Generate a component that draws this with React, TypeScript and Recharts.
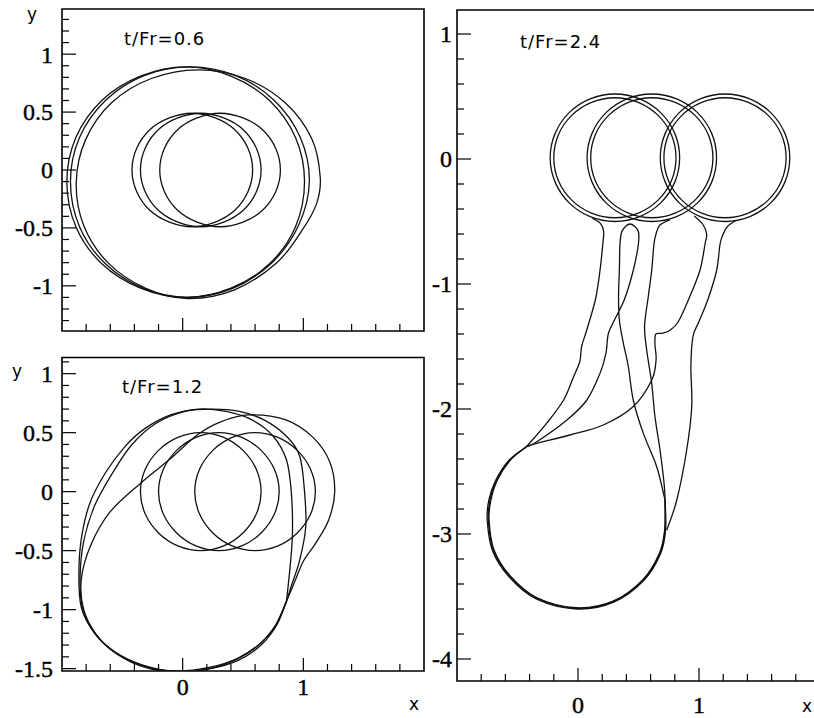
import React from 'react';
import { LineChart, Line, XAxis, YAxis, ReferenceArea } from 'recharts';

type P = [number, number];

// ---------- Panel t/Fr=0.6 (top left) ----------
const tlInnerA: P[] = [[0.58,0],[0.54,0.19],[0.43,0.35],[0.27,0.45],[0.08,0.49],[-0.11,0.45],[-0.27,0.35],[-0.38,0.19],[-0.42,0],[-0.38,-0.19],[-0.27,-0.35],[-0.11,-0.45],[0.08,-0.49],[0.27,-0.45],[0.43,-0.35],[0.54,-0.19]];
const tlInnerB: P[] = [[0.65,0],[0.61,0.19],[0.50,0.35],[0.34,0.45],[0.15,0.49],[-0.04,0.45],[-0.20,0.35],[-0.31,0.19],[-0.35,0],[-0.31,-0.19],[-0.20,-0.35],[-0.04,-0.45],[0.15,-0.49],[0.34,-0.45],[0.50,-0.35],[0.61,-0.19]];
const tlInnerC: P[] = [[0.81,0],[0.77,0.19],[0.66,0.35],[0.50,0.45],[0.31,0.49],[0.12,0.45],[-0.04,0.35],[-0.15,0.19],[-0.19,0],[-0.15,-0.19],[-0.04,-0.35],[0.12,-0.45],[0.31,-0.49],[0.50,-0.45],[0.66,-0.35],[0.77,-0.19]];
const tlOuterA: P[] = [[1.01,-0.10],[0.935,0.28],[0.72,0.60],[0.40,0.81],[0.03,0.89],[-0.35,0.81],[-0.67,0.60],[-0.885,0.28],[-0.96,-0.10],[-0.885,-0.49],[-0.67,-0.81],[-0.35,-1.02],[0.02,-1.10],[0.40,-1.02],[0.72,-0.81],[0.935,-0.49]];
const tlOuterB: P[] = [[1.05,-0.10],[0.975,0.28],[0.76,0.60],[0.44,0.815],[0.06,0.89],[-0.32,0.815],[-0.64,0.60],[-0.855,0.28],[-0.93,-0.10],[-0.855,-0.49],[-0.64,-0.81],[-0.32,-1.025],[0.04,-1.10],[0.41,-1.025],[0.74,-0.80],[0.96,-0.48]];
const tlOuterC: P[] = [[1.14,-0.06],[1.07,0.27],[0.85,0.58],[0.52,0.79],[0.13,0.865],[-0.26,0.79],[-0.59,0.58],[-0.805,0.26],[-0.882,-0.11],[-0.82,-0.48],[-0.62,-0.80],[-0.31,-1.02],[0.04,-1.11],[0.43,-1.035],[0.78,-0.80],[0.99,-0.52],[1.11,-0.29]];

// ---------- Panel t/Fr=1.2 (bottom left) ----------
const blInnerA: P[] = [[0.65,0],[0.61,0.19],[0.50,0.35],[0.34,0.46],[0.15,0.50],[-0.04,0.46],[-0.20,0.35],[-0.31,0.19],[-0.35,0],[-0.31,-0.19],[-0.20,-0.35],[-0.04,-0.46],[0.15,-0.50],[0.34,-0.46],[0.50,-0.35],[0.61,-0.19]];
const blInnerB: P[] = [[0.80,0],[0.76,0.19],[0.65,0.35],[0.49,0.46],[0.30,0.50],[0.11,0.46],[-0.05,0.35],[-0.16,0.19],[-0.20,0],[-0.16,-0.19],[-0.05,-0.35],[0.11,-0.46],[0.30,-0.50],[0.49,-0.46],[0.65,-0.35],[0.76,-0.19]];
const blInnerC: P[] = [[1.10,0],[1.06,0.19],[0.95,0.35],[0.79,0.46],[0.60,0.50],[0.41,0.46],[0.25,0.35],[0.14,0.19],[0.10,0],[0.14,-0.19],[0.25,-0.35],[0.41,-0.46],[0.60,-0.50],[0.79,-0.46],[0.95,-0.35],[1.06,-0.19]];
const blOuterA: P[] = [[0.86,-0.93],[0.89,-0.64],[0.91,-0.35],[0.90,0.0],[0.86,0.27],[0.75,0.47],[0.57,0.61],[0.36,0.68],[0.13,0.70],[-0.10,0.65],[-0.32,0.53],[-0.48,0.38],[-0.64,0.16],[-0.77,-0.10],[-0.84,-0.40],[-0.86,-0.70],[-0.84,-0.98],[-0.73,-1.20],[-0.56,-1.36],[-0.33,-1.47],[-0.05,-1.525],[0.22,-1.50],[0.45,-1.42],[0.64,-1.29],[0.77,-1.13],[0.86,-0.93]];
const blOuterB: P[] = [[0.86,-0.93],[0.90,-0.80],[0.97,-0.58],[1.02,-0.30],[1.01,0.0],[0.97,0.30],[0.86,0.47],[0.67,0.61],[0.47,0.68],[0.25,0.70],[0.02,0.68],[-0.22,0.58],[-0.42,0.40],[-0.58,0.16],[-0.73,-0.12],[-0.82,-0.42],[-0.85,-0.72],[-0.83,-0.99],[-0.72,-1.21],[-0.55,-1.37],[-0.32,-1.48],[-0.05,-1.52],[0.22,-1.49],[0.46,-1.41],[0.65,-1.28],[0.78,-1.12],[0.86,-0.93]];
const blOuterC: P[] = [[0.86,-0.93],[0.93,-0.76],[1.00,-0.59],[1.10,-0.44],[1.21,-0.24],[1.26,0.0],[1.22,0.25],[1.08,0.46],[0.85,0.61],[0.55,0.65],[0.31,0.59],[0.12,0.48],[-0.10,0.28],[-0.35,0.07],[-0.60,-0.17],[-0.76,-0.45],[-0.84,-0.74],[-0.82,-1.00],[-0.71,-1.22],[-0.54,-1.38],[-0.31,-1.49],[-0.04,-1.53],[0.23,-1.50],[0.46,-1.43],[0.65,-1.30],[0.78,-1.13],[0.86,-0.93]];

// ---------- Panel t/Fr=2.4 (right) ----------
const rRing1Out: P[] = [[0.84,0.01],[0.80,0.205],[0.683,0.371],[0.51,0.481],[0.305,0.52],[0.10,0.481],[-0.073,0.371],[-0.189,0.205],[-0.23,0.01],[-0.189,-0.185],[-0.073,-0.351],[0.10,-0.461],[0.305,-0.50],[0.51,-0.461],[0.683,-0.351],[0.80,-0.185]];
const rRing1In: P[] = [[0.81,0.01],[0.772,0.194],[0.662,0.349],[0.498,0.453],[0.305,0.49],[0.112,0.453],[-0.052,0.349],[-0.162,0.194],[-0.20,0.01],[-0.162,-0.174],[-0.052,-0.329],[0.112,-0.433],[0.305,-0.47],[0.498,-0.433],[0.662,-0.329],[0.772,-0.174]];
const rRing2Out: P[] = [[1.145,0.01],[1.105,0.205],[0.988,0.371],[0.815,0.481],[0.61,0.52],[0.405,0.481],[0.232,0.371],[0.116,0.205],[0.075,0.01],[0.116,-0.185],[0.232,-0.351],[0.405,-0.461],[0.61,-0.50],[0.815,-0.461],[0.988,-0.351],[1.105,-0.185]];
const rRing2In: P[] = [[1.115,0.01],[1.077,0.194],[0.967,0.349],[0.803,0.453],[0.61,0.49],[0.417,0.453],[0.253,0.349],[0.143,0.194],[0.105,0.01],[0.143,-0.174],[0.253,-0.329],[0.417,-0.433],[0.61,-0.47],[0.803,-0.433],[0.967,-0.329],[1.077,-0.174]];
const rRing3Out: P[] = [[1.75,0.01],[1.71,0.205],[1.593,0.371],[1.42,0.481],[1.215,0.52],[1.01,0.481],[0.837,0.371],[0.721,0.205],[0.68,0.01],[0.721,-0.185],[0.837,-0.351],[1.01,-0.461],[1.215,-0.50],[1.42,-0.461],[1.593,-0.351],[1.71,-0.185]];
const rRing3In: P[] = [[1.72,0.01],[1.682,0.194],[1.572,0.349],[1.408,0.453],[1.215,0.49],[1.022,0.453],[0.858,0.349],[0.748,0.194],[0.71,0.01],[0.748,-0.174],[0.858,-0.329],[1.022,-0.433],[1.215,-0.47],[1.408,-0.433],[1.572,-0.329],[1.682,-0.174]];
const rStemA: P[] = [[0.12,-0.475],[0.185,-0.515],[0.212,-0.58],[0.205,-0.68],[0.182,-0.89],[0.145,-1.12],[0.075,-1.36],[0.03,-1.50],[0.015,-1.62],[-0.04,-1.75],[-0.12,-1.93],[-0.26,-2.115],[-0.424,-2.30]];
const rStemBC: P[] = [[-0.424,-2.30],[-0.34,-2.262],[-0.094,-2.09],[0.072,-1.93],[0.182,-1.715],[0.231,-1.555],[0.25,-1.40],[0.30,-1.29],[0.385,-1.12],[0.457,-0.89],[0.499,-0.68],[0.497,-0.575],[0.43,-0.52],[0.365,-0.575],[0.347,-0.68],[0.342,-0.89],[0.335,-1.10],[0.342,-1.29],[0.375,-1.475],[0.416,-1.66],[0.457,-1.93],[0.54,-2.195],[0.65,-2.46],[0.72,-2.73]];
const rStemD: P[] = [[0.76,-0.485],[0.675,-0.53],[0.645,-0.60],[0.628,-0.68],[0.609,-0.89],[0.581,-1.10],[0.55,-1.34],[0.568,-1.53],[0.609,-1.795],[0.636,-2.06],[0.678,-2.33],[0.712,-2.60],[0.72,-2.73]];
const rStemE: P[] = [[0.96,-0.455],[1.03,-0.52],[1.063,-0.60],[1.05,-0.68],[1.008,-0.89],[0.92,-1.11],[0.83,-1.30],[0.76,-1.37],[0.70,-1.393],[0.645,-1.398],[0.636,-1.44],[0.637,-1.50],[0.645,-1.61],[0.609,-1.77],[0.457,-1.98],[0.209,-2.128],[-0.066,-2.208],[-0.341,-2.275],[-0.424,-2.30]];
const rStemF: P[] = [[1.30,-0.493],[1.235,-0.54],[1.20,-0.60],[1.174,-0.68],[1.146,-0.89],[1.075,-1.12],[1.0,-1.30],[0.95,-1.42],[0.933,-1.66],[0.94,-1.98],[0.898,-2.33],[0.816,-2.73],[0.733,-2.97]];
const rBlobA: P[] = [[-0.424,-2.30],[-0.562,-2.408],[-0.672,-2.568],[-0.727,-2.728],[-0.741,-2.888],[-0.70,-3.128],[-0.562,-3.341],[-0.341,-3.515],[-0.011,-3.595],[0.292,-3.541],[0.54,-3.368],[0.678,-3.155],[0.719,-2.968],[0.72,-2.73]];
const rBlobB: P[] = [[-0.424,-2.30],[-0.57,-2.41],[-0.68,-2.57],[-0.737,-2.73],[-0.75,-2.89],[-0.708,-3.13],[-0.568,-3.345],[-0.345,-3.52],[-0.011,-3.60],[0.295,-3.545],[0.545,-3.37],[0.683,-3.155],[0.724,-2.968],[0.72,-2.73]];
const rBlobC: P[] = [[-0.424,-2.30],[-0.555,-2.405],[-0.665,-2.565],[-0.72,-2.728],[-0.735,-2.888],[-0.695,-3.125],[-0.558,-3.337],[-0.338,-3.51],[-0.011,-3.59],[0.29,-3.537],[0.536,-3.365],[0.674,-3.152],[0.716,-2.968],[0.72,-2.73]];

// ---------- ticks ----------
const xMajor = [0, 1];
const xMinor = [-0.8, -0.6, -0.4, -0.2, 0.2, 0.4, 0.6, 0.8, 1.2, 1.4, 1.6, 1.8];
const tlYMajor = [-1, -0.5, 0, 0.5, 1];
const tlYMinor = [-1.3, -1.2, -1.1, -0.9, -0.8, -0.7, -0.6, -0.4, -0.3, -0.2, -0.1, 0.1, 0.2, 0.3, 0.4, 0.6, 0.7, 0.8, 0.9, 1.1, 1.2, 1.3];
const blYMajor = [-1.5, -1, -0.5, 0, 0.5, 1];
const blYMinor = [-1.4, -1.3, -1.2, -1.1, -0.9, -0.8, -0.7, -0.6, -0.4, -0.3, -0.2, -0.1, 0.1, 0.2, 0.3, 0.4, 0.6, 0.7, 0.8, 0.9, 1.1];
const rYMajor = [-4, -3, -2, -1, 0, 1];
const rYMinor = [-3.8, -3.6, -3.4, -3.2, -2.8, -2.6, -2.4, -2.2, -1.8, -1.6, -1.4, -1.2, -0.8, -0.6, -0.4, -0.2, 0.2, 0.4, 0.6, 0.8];

const toPts = (a: P[]) => a.map(([x, y]) => ({ x, y }));

function catmull(closed: boolean) {
  return (ctx: any) => {
    let pts: number[][] = [];
    return {
      areaStart() {},
      areaEnd() {},
      lineStart() { pts = []; },
      point(x: number, y: number) { pts.push([+x, +y]); },
      lineEnd() {
        const n = pts.length;
        if (!n) return;
        ctx.moveTo(pts[0][0], pts[0][1]);
        if (n < 3) {
          for (let i = 1; i < n; i++) ctx.lineTo(pts[i][0], pts[i][1]);
          return;
        }
        const get = (i: number) => (closed ? pts[(i + n) % n] : pts[Math.max(0, Math.min(n - 1, i))]);
        const segs = closed ? n : n - 1;
        for (let i = 0; i < segs; i++) {
          const p0 = get(i - 1), p1 = get(i), p2 = get(i + 1), p3 = get(i + 2);
          ctx.bezierCurveTo(
            p1[0] + (p2[0] - p0[0]) / 6, p1[1] + (p2[1] - p0[1]) / 6,
            p2[0] - (p3[0] - p1[0]) / 6, p2[1] - (p3[1] - p1[1]) / 6,
            p2[0], p2[1]
          );
        }
        if (closed) ctx.closePath();
      },
    };
  };
}
const closedCurve = catmull(true);
const openCurve = catmull(false);

const SERIF = '"Liberation Serif", "Times New Roman", Times, serif';
const SANS = '"DejaVu Sans", sans-serif';
const serifStyle = { fontFamily: SERIF, fontSize: 24 };

function makeYTick(majors: number[], gap: number) {
  return (props: any) => {
    const { x, y, payload } = props;
    const v = payload.value;
    const major = majors.includes(v);
    return (
      <g>
        <line x1={x} y1={y} x2={x + (major ? 14 : 7)} y2={y} stroke="#000" strokeWidth={1.2} />
        {major && (
          <text x={x - gap} y={y} dy="0.35em" textAnchor="end" style={serifStyle} fill="#000" stroke="#000" strokeWidth={0.4}>
            {String(v)}
          </text>
        )}
      </g>
    );
  };
}

function makeXTick(majors: number[], showLabels: boolean, labelDy: number) {
  return (props: any) => {
    const { x, y, payload } = props;
    const v = payload.value;
    const major = majors.includes(v);
    return (
      <g>
        <line x1={x} y1={y} x2={x} y2={y - (major ? 13 : 7)} stroke="#000" strokeWidth={1.2} />
        {major && showLabels && (
          <text x={x} y={y + labelDy} textAnchor="middle" style={serifStyle} fill="#000" stroke="#000" strokeWidth={0.4}>
            {String(v)}
          </text>
        )}
      </g>
    );
  };
}

type PanelProps = {
  left: number; top: number; width: number; height: number;
  margin: { top: number; right: number; bottom: number; left: number };
  yDomain: [number, number];
  yMajor: number[]; yMinor: number[];
  showXLabels: boolean; xLabelDy: number; yGap: number;
  closed: P[][]; open: P[][];
};

function Panel(p: PanelProps) {
  const xDomain: [number, number] = [-1, 2];
  return (
    <div style={{ position: 'absolute', left: p.left, top: p.top }}>
      <LineChart width={p.width} height={p.height} margin={p.margin}>
        <XAxis
          type="number" dataKey="x" domain={xDomain} allowDataOverflow
          ticks={[...xMajor, ...xMinor]} interval={0} tickSize={0} tickMargin={0}
          axisLine={false} tickLine={false} height={1}
          tick={makeXTick(xMajor, p.showXLabels, p.xLabelDy)}
        />
        <YAxis
          type="number" dataKey="y" domain={p.yDomain} allowDataOverflow
          ticks={[...p.yMajor, ...p.yMinor]} interval={0} tickSize={0} tickMargin={0}
          axisLine={false} tickLine={false} width={1}
          tick={makeYTick(p.yMajor, p.yGap)}
        />
        <ReferenceArea
          x1={xDomain[0]} x2={xDomain[1]} y1={p.yDomain[0]} y2={p.yDomain[1]}
          fill="none" fillOpacity={0} stroke="#000" strokeWidth={1.6} ifOverflow="visible"
        />
        {p.closed.map((c, i) => (
          <Line key={'c' + i} data={toPts(c)} dataKey="y" type={closedCurve as any}
            stroke="#111" strokeWidth={1.3} dot={false} activeDot={false}
            isAnimationActive={false} legendType="none" />
        ))}
        {p.open.map((c, i) => (
          <Line key={'o' + i} data={toPts(c)} dataKey="y" type={openCurve as any}
            stroke="#111" strokeWidth={1.3} dot={false} activeDot={false}
            isAnimationActive={false} legendType="none" />
        ))}
      </LineChart>
    </div>
  );
}

export default function App() {
  return (
    <div style={{ position: 'absolute', left: 0, top: 0, width: 814, height: 718, overflow: 'hidden', background: '#fff' }}>
      <Panel
        left={0} top={0} width={430} height={340}
        margin={{ top: 9, right: 6, bottom: 8, left: 61 }}
        yDomain={[-1.39, 1.39]} yMajor={tlYMajor} yMinor={tlYMinor}
        showXLabels={false} xLabelDy={24} yGap={9}
        closed={[tlInnerA, tlInnerB, tlInnerC, tlOuterA, tlOuterB, tlOuterC]} open={[]}
      />
      <Panel
        left={0} top={340} width={430} height={378}
        margin={{ top: 17.5, right: 6, bottom: 46, left: 61 }}
        yDomain={[-1.52, 1.137]} yMajor={blYMajor} yMinor={blYMinor}
        showXLabels={true} xLabelDy={24} yGap={9}
        closed={[blInnerA, blInnerB, blInnerC]} open={[blOuterA, blOuterB, blOuterC]}
      />
      <Panel
        left={420} top={0} width={400} height={718}
        margin={{ top: 10, right: 0, bottom: 36, left: 36 }}
        yDomain={[-4.176, 1.192]} yMajor={rYMajor} yMinor={rYMinor}
        showXLabels={true} xLabelDy={32} yGap={5}
        closed={[rRing1Out, rRing1In, rRing2Out, rRing2In, rRing3Out, rRing3In]}
        open={[rStemA, rStemBC, rStemD, rStemE, rStemF, rBlobA, rBlobB, rBlobC]}
      />
      <svg width={814} height={718} style={{ position: 'absolute', left: 0, top: 0, pointerEvents: 'none' }}>
        <g style={{ fontFamily: SANS }} fill="#000">
          <text x={27} y={20} fontSize={17}>y</text>
          <text x={124} y={45} fontSize={18} letterSpacing={1}>t/Fr=0.6</text>
          <text x={12} y={377} fontSize={17}>y</text>
          <text x={122} y={393} fontSize={18} letterSpacing={1}>t/Fr=1.2</text>
          <text x={409} y={710} fontSize={17}>x</text>
          <text x={520} y={48} fontSize={18} letterSpacing={1}>t/Fr=2.4</text>
          <text x={802} y={712} fontSize={17}>x</text>
        </g>
      </svg>
    </div>
  );
}
